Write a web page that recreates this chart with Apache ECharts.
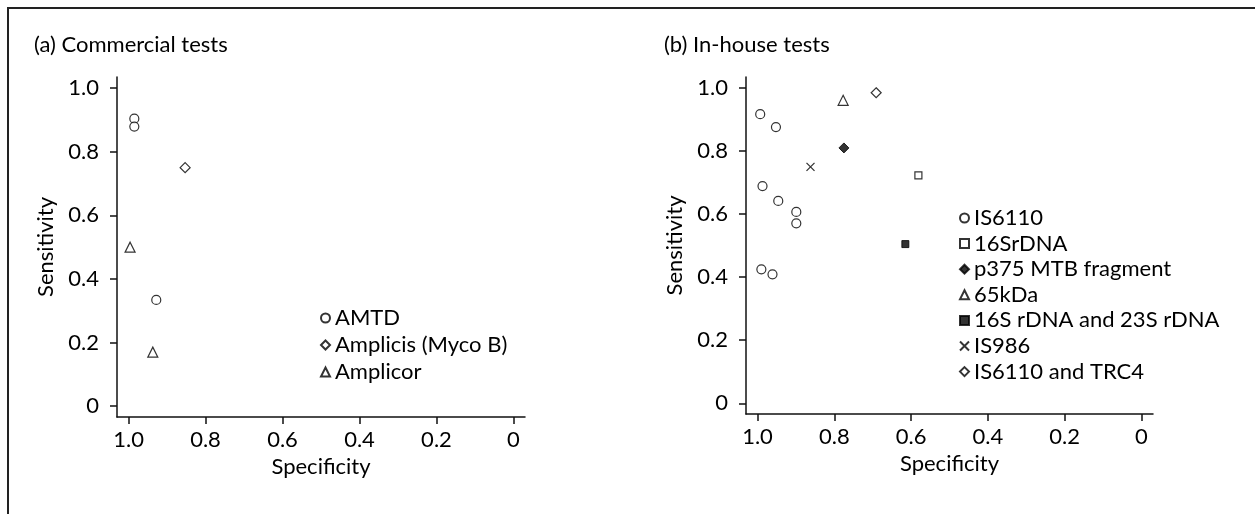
<!DOCTYPE html>
<html>
<head>
<meta charset="utf-8">
<script src="https://cdn.jsdelivr.net/npm/echarts@6/dist/echarts.min.js"></script>
<style>html,body{margin:0;padding:0;background:#fff;}#c{width:1255px;height:514px;}</style>
</head>
<body>
<div id="c"></div>
<script>
// ---- data ----
const tickValues = [0, 0.2, 0.4, 0.6, 0.8, 1.0];
const tickLabels = ['0', '0.2', '0.4', '0.6', '0.8', '1.0'];

// (a) Commercial tests
const amtdX = [0.985, 0.985, 0.928];
const amtdY = [0.904, 0.879, 0.334];
const amplicisX = [0.853];
const amplicisY = [0.750];
const amplicorX = [0.996, 0.937];
const amplicorY = [0.500, 0.170];

// (b) In-house tests
const is6110X = [0.993, 0.952, 0.987, 0.946, 0.899, 0.899, 0.990, 0.961];
const is6110Y = [0.917, 0.876, 0.689, 0.642, 0.607, 0.571, 0.425, 0.409];
const s16X = [0.581];
const s16Y = [0.723];
const p375X = [0.775];
const p375Y = [0.810];
const kdaX = [0.777];
const kdaY = [0.961];
const s16s23X = [0.615];
const s16s23Y = [0.505];
const is986X = [0.862];
const is986Y = [0.750];
const trc4X = [0.691];
const trc4Y = [0.985];

// ---- chart ----
const FONT = 'Lato';
const FS = 22;
const INK = '#000';
const pts = (xs, ys) => xs.map((x, i) => [x, ys[i]]);
const fmt = v => {
  const i = tickValues.findIndex(t => Math.abs(t - v) < 1e-9);
  return i >= 0 ? tickLabels[i] : '';
};
const CROSS = 'path://M0,0L10,10M10,0L0,10';
const open = {color: '#fff', borderColor: '#000', borderWidth: 1.2};
const filled = {color: '#000', borderColor: '#000', borderWidth: 1};
const cross = {color: 'rgba(0,0,0,0)', borderColor: '#000', borderWidth: 1.3};

function xAx(gi) {
  return {
    type: 'value', gridIndex: gi, inverse: true, min: -0.03, max: 1.03,
    name: 'Specificity', nameLocation: 'middle', nameGap: 37,
    nameTextStyle: {fontFamily: FONT, fontSize: FS, color: INK},
    axisLine: {show: true, onZero: false, lineStyle: {color: '#111', width: 1.5}},
    axisTick: {show: true, length: 7, customValues: tickValues, lineStyle: {color: '#111', width: 1.5}},
    axisLabel: {customValues: tickValues, formatter: fmt, margin: 12, fontFamily: FONT, fontSize: FS, color: INK},
    splitLine: {show: false}
  };
}
function yAx(gi) {
  return {
    type: 'value', gridIndex: gi, min: -0.034, max: 1.035,
    name: 'Sensitivity', nameLocation: 'middle', nameGap: 60,
    nameTextStyle: {fontFamily: FONT, fontSize: FS, color: INK},
    axisLine: {show: true, onZero: false, lineStyle: {color: '#111', width: 1.5}},
    axisTick: {show: true, length: 7, customValues: tickValues, lineStyle: {color: '#111', width: 1.5}},
    axisLabel: {customValues: tickValues, formatter: fmt, margin: 18, fontFamily: FONT, fontSize: FS, color: INK},
    splitLine: {show: false}
  };
}
function sc(name, gi, data, symbol, size, style) {
  return {
    name, type: 'scatter', xAxisIndex: gi, yAxisIndex: gi, data,
    symbol, symbolSize: size, itemStyle: style, emphasis: {disabled: true}, animation: false
  };
}

const chart = echarts.init(document.getElementById('c'), null, {renderer: 'canvas'});
chart.setOption({
  animation: false,
  backgroundColor: '#fff',
  title: [
    {text: '(a) Commercial tests', left: 34, top: 34, padding: 0,
     textStyle: {fontFamily: FONT, fontSize: FS, fontWeight: 'normal', color: INK}},
    {text: '(b) In-house tests', left: 664, top: 34, padding: 0,
     textStyle: {fontFamily: FONT, fontSize: FS, fontWeight: 'normal', color: INK}}
  ],
  graphic: [{
    type: 'rect', shape: {x: 8, y: 8, width: 1400, height: 700},
    style: {fill: 'none', stroke: '#222', lineWidth: 2}, silent: true
  }],
  grid: [
    {left: 117, top: 77, width: 408, height: 340},
    {left: 746, top: 77, width: 407, height: 337}
  ],
  xAxis: [xAx(0), xAx(1)],
  yAxis: [yAx(0), yAx(1)],
  legend: [
    {data: ['AMTD', 'Amplicis (Myco B)', 'Amplicor'], orient: 'vertical', left: 315, top: 302,
     itemWidth: 9, itemHeight: 9, itemGap: 5, selectedMode: false,
     textStyle: {fontFamily: FONT, fontSize: FS, lineHeight: 20, color: INK}},
    {data: ['IS6110', '16SrDNA', 'p375 MTB fragment', '65kDa', '16S rDNA and 23S rDNA', 'IS986', 'IS6110 and TRC4'],
     orient: 'vertical', left: 954, top: 202,
     itemWidth: 9, itemHeight: 9, itemGap: 3.6, selectedMode: false,
     textStyle: {fontFamily: FONT, fontSize: FS, lineHeight: 20, color: INK}}
  ],
  series: [
    sc('AMTD', 0, pts(amtdX, amtdY), 'circle', 9, open),
    sc('Amplicis (Myco B)', 0, pts(amplicisX, amplicisY), 'diamond', 10, open),
    sc('Amplicor', 0, pts(amplicorX, amplicorY), 'triangle', 10, open),
    sc('IS6110', 1, pts(is6110X, is6110Y), 'circle', 9, open),
    sc('16SrDNA', 1, pts(s16X, s16Y), 'rect', 7, open),
    sc('p375 MTB fragment', 1, pts(p375X, p375Y), 'diamond', 10, filled),
    sc('65kDa', 1, pts(kdaX, kdaY), 'triangle', 10, open),
    sc('16S rDNA and 23S rDNA', 1, pts(s16s23X, s16s23Y), 'rect', 7, filled),
    sc('IS986', 1, pts(is986X, is986Y), CROSS, 8, cross),
    sc('IS6110 and TRC4', 1, pts(trc4X, trc4Y), 'diamond', 10, open)
  ]
});
</script>
</body>
</html>
